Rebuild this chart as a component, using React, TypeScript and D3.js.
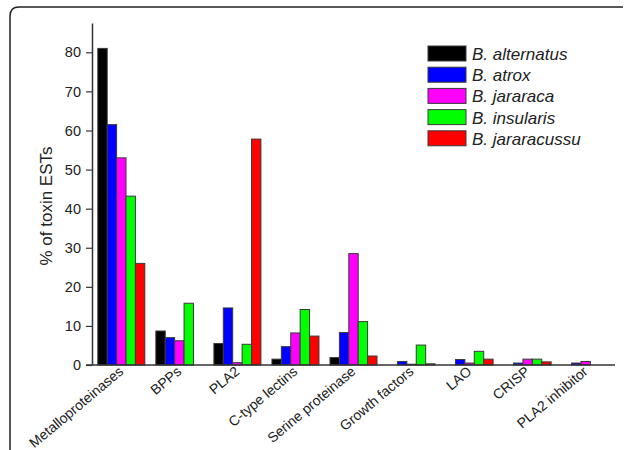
import React, { useEffect, useRef } from "react";
import * as d3 from "d3";

// категории и серии
const categories = [
  "Metalloproteinases",
  "BPPs",
  "PLA2",
  "C-type lectins",
  "Serine proteinase",
  "Growth factors",
  "LAO",
  "CRISP",
  "PLA2 inhibitor",
];
const species = ["B. alternatus", "B. atrox", "B. jararaca", "B. insularis", "B. jararacussu"];
const colors = ["#000000", "#0000ff", "#ff00ff", "#00ff00", "#ff0000"];

const alternatus = [81, 8.7, 5.5, 1.5, 1.9, 0, 0, 0, 0];
const atrox = [61.5, 7, 14.6, 4.7, 8.3, 0.9, 1.4, 0.5, 0.5];
const jararaca = [53, 6.2, 0.6, 8.2, 28.5, 0.2, 0.5, 1.5, 0.9];
const insularis = [43.2, 15.8, 5.3, 14.2, 11.1, 5.1, 3.5, 1.5, 0];
const jararacussu = [26, 0, 57.8, 7.4, 2.3, 0.3, 1.5, 0.8, 0];
const yTicks = [0, 10, 20, 30, 40, 50, 60, 70, 80];

const W = 624;
const H = 450;

export default function App() {
  const svgRef = useRef<SVGSVGElement | null>(null);

  useEffect(() => {
    if (!svgRef.current) return;
    const svg = d3.select(svgRef.current);
    svg.selectAll("*").remove();

    const series = [alternatus, atrox, jararaca, insularis, jararacussu];
    const font = "'Liberation Sans', Arial, sans-serif";
    const axisColor = "#333";

    // рамка карточки
    svg
      .append("path")
      .attr("d", "M10,450 V16 Q10,7 19,7 H623")
      .attr("fill", "none")
      .attr("stroke", "#222")
      .attr("stroke-width", 1.5);

    const x0 = d3.scaleBand().domain(categories).range([92, 615]).paddingInner(0.19).paddingOuter(0.1);
    const x1 = d3.scaleBand().domain(species).range([0, x0.bandwidth()]);
    const y = d3.scaleLinear().domain([0, 87.5]).range([365, 23]);

    // столбцы
    const groups = svg
      .append("g")
      .selectAll("g")
      .data(categories)
      .join("g")
      .attr("transform", (d) => `translate(${x0(d)},0)`);

    groups
      .selectAll("rect")
      .data((_, i) => series.map((s, k) => ({ key: species[k], v: s[i], c: colors[k] })))
      .join("rect")
      .filter((d) => d.v > 0)
      .attr("x", (d) => x1(d.key)!)
      .attr("width", x1.bandwidth())
      .attr("y", (d) => y(d.v))
      .attr("height", (d) => y(0) - y(d.v))
      .attr("fill", (d) => d.c)
      .attr("stroke", "#3a3a3a")
      .attr("stroke-width", 1);

    // ось Y
    const yAxis = svg
      .append("g")
      .attr("transform", "translate(92,0)")
      .call(d3.axisLeft(y).tickValues(yTicks).tickSize(6).tickPadding(5).tickSizeOuter(0));
    yAxis.select(".domain").attr("stroke", axisColor).attr("stroke-width", 1.5);
    yAxis.selectAll(".tick line").attr("stroke", axisColor).attr("stroke-width", 1.2);
    yAxis
      .selectAll(".tick text")
      .attr("fill", "#222")
      .style("font-family", font)
      .style("font-size", "14.5px");

    // ось X
    svg
      .append("line")
      .attr("x1", 86)
      .attr("x2", 615)
      .attr("y1", y(0))
      .attr("y2", y(0))
      .attr("stroke", axisColor)
      .attr("stroke-width", 1.5);

    svg
      .append("g")
      .selectAll("text")
      .data(categories)
      .join("text")
      .attr("transform", (d) => `translate(${x0(d)! + x0.bandwidth() / 2 + 3},${y(0) + 8}) rotate(-40)`)
      .attr("text-anchor", "end")
      .attr("fill", "#222")
      .style("font-family", font)
      .style("font-size", "14px")
      .text((d) => d);

    svg
      .append("text")
      .attr("transform", "translate(52,206) rotate(-90)")
      .attr("text-anchor", "middle")
      .attr("fill", "#222")
      .style("font-family", font)
      .style("font-size", "17px")
      .text("% of toxin ESTs");

    // легенда
    const legend = svg
      .append("g")
      .selectAll("g")
      .data(species)
      .join("g")
      .attr("transform", (_, i) => `translate(428,${46 + i * 21.2})`);
    legend
      .append("rect")
      .attr("width", 38)
      .attr("height", 15)
      .attr("fill", (_, i) => colors[i])
      .attr("stroke", "#3a3a3a");
    legend
      .append("text")
      .attr("x", 44)
      .attr("y", 14)
      .attr("fill", "#222")
      .style("font-family", font)
      .style("font-style", "italic")
      .style("font-size", "17px")
      .text((d) => d);
  }, []);

  return (
    <div style={{ position: "absolute", left: 0, top: 0, width: W, height: H, background: "#fff" }}>
      <svg ref={svgRef} width={W} height={H} style={{ display: "block" }} />
    </div>
  );
}
